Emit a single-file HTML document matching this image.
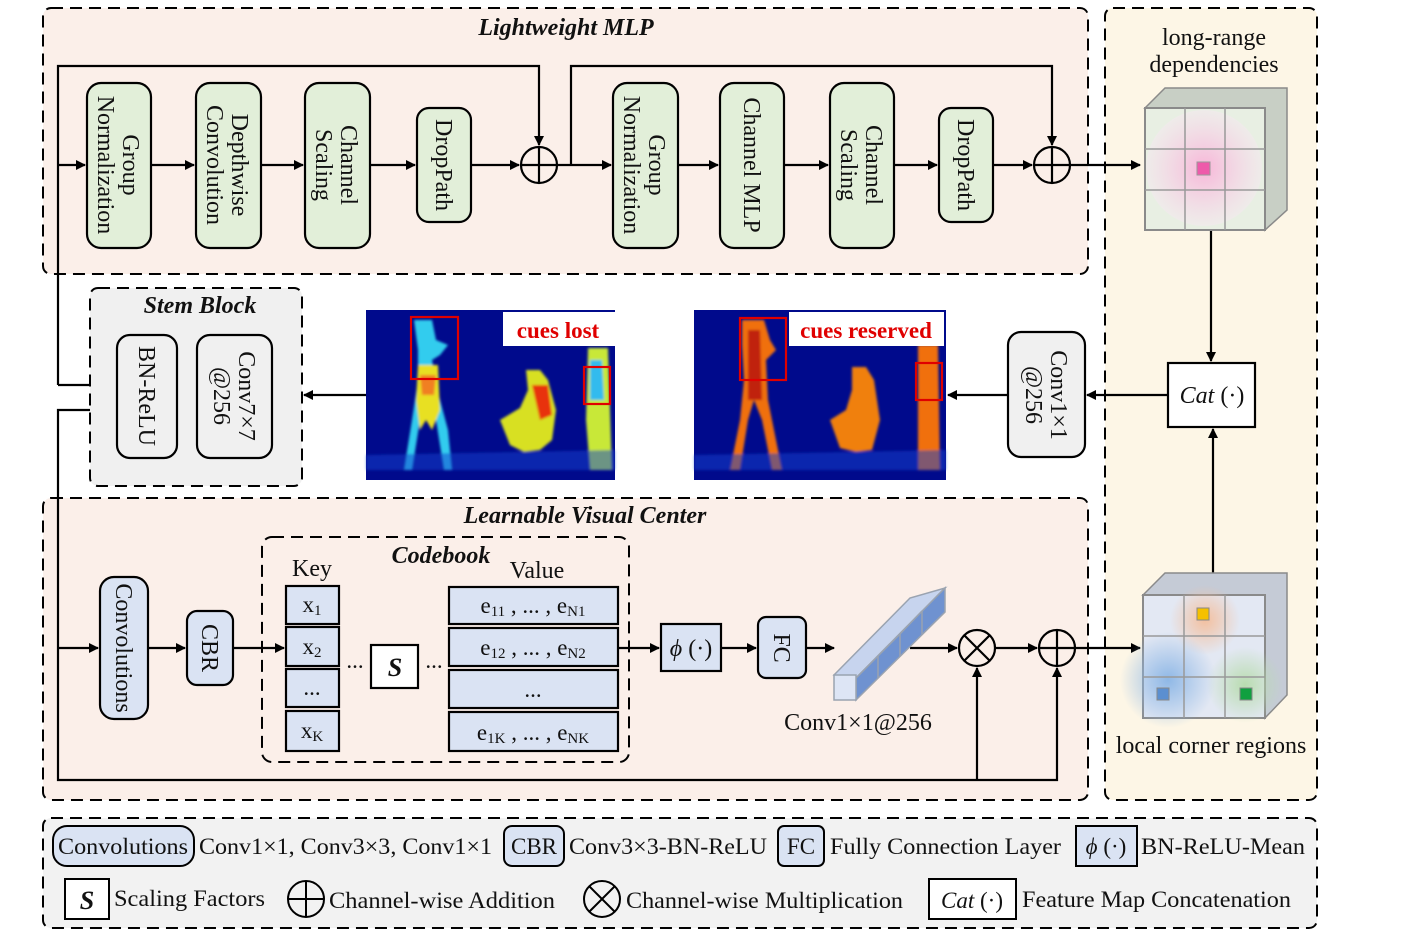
<!DOCTYPE html>
<html><head><meta charset="utf-8"><style>
html,body{margin:0;padding:0;background:#fff}
svg{display:block}
text{font-family:"Liberation Serif",serif;fill:#111}
.t{font-size:24px}
.it{font-style:italic;font-weight:bold}
</style></head><body>
<svg width="1423" height="951" viewBox="0 0 1423 951" xmlns="http://www.w3.org/2000/svg">
<defs>
<marker id="ar" markerWidth="10" markerHeight="10" refX="9" refY="5" orient="auto" markerUnits="userSpaceOnUse"><path d="M0,0 L10,5 L0,10 z" fill="#000"/></marker>
<radialGradient id="pink"><stop offset="0" stop-color="#f7b6d8"/><stop offset="1" stop-color="#f3e9ee" stop-opacity="0.6"/></radialGradient>
<radialGradient id="bl"><stop offset="0" stop-color="#8fb8e6"/><stop offset="1" stop-color="#8fb8e6" stop-opacity="0"/></radialGradient>
<radialGradient id="or"><stop offset="0" stop-color="#f3c0a0"/><stop offset="1" stop-color="#f3c0a0" stop-opacity="0"/></radialGradient>
<radialGradient id="gr"><stop offset="0" stop-color="#b9dcb0"/><stop offset="1" stop-color="#b9dcb0" stop-opacity="0"/></radialGradient>
<filter id="bf"><feGaussianBlur stdDeviation="1.2"/></filter>
</defs>

<rect x="43" y="8" width="1045" height="266" rx="8" fill="#fbefe9" stroke="#000" stroke-width="2" stroke-dasharray="12,7"/>
<rect x="1105" y="8" width="212" height="792" rx="8" fill="#fdf6e6" stroke="#000" stroke-width="2" stroke-dasharray="12,7"/>
<rect x="90" y="288" width="212" height="198" rx="8" fill="#f0f0f0" stroke="#000" stroke-width="2" stroke-dasharray="12,7"/>
<rect x="43" y="498" width="1045" height="302" rx="8" fill="#fbefe9" stroke="#000" stroke-width="2" stroke-dasharray="12,7"/>
<rect x="43" y="818" width="1274" height="110" rx="8" fill="#f2f2f2" stroke="#000" stroke-width="2" stroke-dasharray="12,7"/>

<text x="566" y="35" class="t it" text-anchor="middle">Lightweight MLP</text>
<text x="200" y="313" class="t it" text-anchor="middle">Stem Block</text>
<text x="585" y="523" class="t it" text-anchor="middle">Learnable Visual Center</text>

<g stroke="#000" stroke-width="2.2" fill="none">
<polyline points="58,385 58,66 539,66 539,145" marker-end="url(#ar)"/>
<polyline points="571,165 571,66 1052,66 1052,145" marker-end="url(#ar)"/>
<line x1="58" y1="165" x2="85" y2="165" marker-end="url(#ar)"/>
<line x1="151" y1="165" x2="194" y2="165" marker-end="url(#ar)"/>
<line x1="261" y1="165" x2="303" y2="165" marker-end="url(#ar)"/>
<line x1="370" y1="165" x2="415" y2="165" marker-end="url(#ar)"/>
<line x1="471" y1="165" x2="519" y2="165" marker-end="url(#ar)"/>
<line x1="557" y1="165" x2="611" y2="165" marker-end="url(#ar)"/>
<line x1="678" y1="165" x2="718" y2="165" marker-end="url(#ar)"/>
<line x1="784" y1="165" x2="828" y2="165" marker-end="url(#ar)"/>
<line x1="894" y1="165" x2="937" y2="165" marker-end="url(#ar)"/>
<line x1="993" y1="165" x2="1032" y2="165" marker-end="url(#ar)"/>
<line x1="1070" y1="165" x2="1140" y2="165" marker-end="url(#ar)"/>
<polyline points="58,385 90,385"/>
<polyline points="90,410 58,410 58,780 1057,780 1057,668" marker-end="url(#ar)"/>
<line x1="977" y1="780" x2="977" y2="668" marker-end="url(#ar)"/>
<line x1="58" y1="648" x2="98" y2="648" marker-end="url(#ar)"/>
<line x1="148" y1="648" x2="185" y2="648" marker-end="url(#ar)"/>
<line x1="233" y1="648" x2="284" y2="648" marker-end="url(#ar)"/>
<line x1="618" y1="648" x2="659" y2="648" marker-end="url(#ar)"/>
<line x1="721" y1="648" x2="756" y2="648" marker-end="url(#ar)"/>
<line x1="806" y1="648" x2="834" y2="648" marker-end="url(#ar)"/>
<line x1="910" y1="648" x2="957" y2="648" marker-end="url(#ar)"/>
<line x1="995" y1="648" x2="1037" y2="648" marker-end="url(#ar)"/>
<line x1="1075" y1="648" x2="1140" y2="648" marker-end="url(#ar)"/>
<line x1="1211" y1="230" x2="1211" y2="361" marker-end="url(#ar)"/>
<line x1="1213" y1="573" x2="1213" y2="429" marker-end="url(#ar)"/>
<line x1="1168" y1="395" x2="1087" y2="395" marker-end="url(#ar)"/>
<line x1="1008" y1="395" x2="948" y2="395" marker-end="url(#ar)"/>
<line x1="366" y1="395" x2="304" y2="395" marker-end="url(#ar)"/>
</g>

<g stroke="#000" stroke-width="2.2" fill="none">
<circle cx="539" cy="165" r="18"/><line x1="521" y1="165" x2="557" y2="165"/><line x1="539" y1="147" x2="539" y2="183"/>
<circle cx="1052" cy="165" r="18"/><line x1="1034" y1="165" x2="1070" y2="165"/><line x1="1052" y1="147" x2="1052" y2="183"/>
<circle cx="977" cy="648" r="18"/><line x1="964" y1="635" x2="990" y2="661"/><line x1="990" y1="635" x2="964" y2="661"/>
<circle cx="1057" cy="648" r="18"/><line x1="1039" y1="648" x2="1075" y2="648"/><line x1="1057" y1="630" x2="1057" y2="666"/>
</g>

<g fill="#e2efd9" stroke="#000" stroke-width="2.2">
<rect x="87" y="83" width="64" height="165" rx="14"/>
<rect x="196" y="83" width="65" height="165" rx="14"/>
<rect x="305" y="83" width="65" height="165" rx="14"/>
<rect x="417" y="108" width="54" height="114" rx="12"/>
<rect x="613" y="83" width="65" height="165" rx="14"/>
<rect x="720" y="83" width="64" height="165" rx="14"/>
<rect x="830" y="83" width="64" height="165" rx="14"/>
<rect x="939" y="108" width="54" height="114" rx="12"/>
</g>
<g font-size="24">
<g transform="translate(119,165) rotate(90)"><text text-anchor="middle" y="-4" font-size="24">Group</text><text text-anchor="middle" y="21" font-size="24">Normalization</text></g>
<g transform="translate(228,165) rotate(90)"><text text-anchor="middle" y="-4" font-size="24">Depthwise</text><text text-anchor="middle" y="21" font-size="24">Convolution</text></g>
<g transform="translate(337,165) rotate(90)"><text text-anchor="middle" y="-4" font-size="24">Channel</text><text text-anchor="middle" y="21" font-size="24">Scaling</text></g>
<g transform="translate(444,165) rotate(90)"><text text-anchor="middle" y="8" font-size="24">DropPath</text></g>
<g transform="translate(645,165) rotate(90)"><text text-anchor="middle" y="-4" font-size="24">Group</text><text text-anchor="middle" y="21" font-size="24">Normalization</text></g>
<g transform="translate(752,165) rotate(90)"><text text-anchor="middle" y="8" font-size="24">Channel MLP</text></g>
<g transform="translate(862,165) rotate(90)"><text text-anchor="middle" y="-4" font-size="24">Channel</text><text text-anchor="middle" y="21" font-size="24">Scaling</text></g>
<g transform="translate(966,165) rotate(90)"><text text-anchor="middle" y="8" font-size="24">DropPath</text></g>
</g>

<g fill="#f0f0f0" stroke="#000" stroke-width="2.2">
<rect x="117" y="335" width="60" height="123" rx="13"/>
<rect x="197" y="335" width="75" height="123" rx="13"/>
<rect x="1008" y="332" width="77" height="125" rx="13"/>
</g>
<g transform="translate(147,396) rotate(90)"><text text-anchor="middle" y="8" font-size="24">BN-ReLU</text></g>
<g transform="translate(235,396) rotate(90)"><text text-anchor="middle" y="-4" font-size="24">Conv7×7</text><text text-anchor="middle" y="21" font-size="24">@256</text></g>
<g transform="translate(1047,395) rotate(90)"><text text-anchor="middle" y="-4" font-size="24">Conv1×1</text><text text-anchor="middle" y="21" font-size="24">@256</text></g>

<g>
<rect x="366" y="310" width="249" height="170" fill="#000a8c"/>
<g filter="url(#bf)">
<path d="M414,320 L432,320 L436,340 L448,345 L440,355 L432,360 L436,380 L440,400 L448,430 L452,470 L444,470 L436,420 L428,400 L420,420 L412,470 L404,470 L412,420 L418,380 L418,350 Z" fill="#33ccee"/>
<path d="M418,365 L438,365 L440,410 L432,430 L426,420 L420,430 L416,400 Z" fill="#e8e020"/>
<path d="M420,375 L436,375 L434,395 L422,395 Z" fill="#f08020"/>
<path d="M526,370 L540,370 L548,380 L556,410 L552,440 L540,450 L524,452 L510,445 L500,420 L520,408 L528,390 Z" fill="#d8e020"/>
<path d="M532,385 L548,385 L552,415 L540,420 Z" fill="#e83010"/>
<path d="M588,348 L608,348 L612,470 L590,470 L586,420 Z" fill="#c8e838"/>
<path d="M590,360 L602,360 L604,400 L590,400 Z" fill="#33bbee"/>
<path d="M366,455 L615,450 L615,470 L366,470 Z" fill="#1040d0" opacity="0.5"/>
</g>
<rect x="411" y="317" width="47" height="62" fill="none" stroke="#e00000" stroke-width="2.2"/>
<rect x="584" y="367" width="26" height="37" fill="none" stroke="#e00000" stroke-width="2.2"/>
<rect x="503" y="312" width="112" height="34" fill="#fff"/>
<text x="558" y="338" text-anchor="middle" font-size="23" font-weight="bold" style="fill:#e00000">cues lost</text>

<rect x="694" y="310" width="252" height="170" fill="#000a8c"/>
<g filter="url(#bf)">
<path d="M742,320 L764,320 L770,340 L776,350 L766,360 L768,400 L776,440 L782,470 L772,470 L762,420 L754,400 L748,420 L740,470 L730,470 L740,420 L744,380 L742,345 Z" fill="#f07010"/>
<path d="M748,330 L760,330 L762,400 L748,400 Z" fill="#c02010"/>
<path d="M852,367 L866,367 L874,380 L880,420 L872,450 L856,452 L840,448 L830,420 L846,410 L852,390 Z" fill="#f08010"/>
<path d="M918,345 L938,345 L940,470 L918,470 Z" fill="#f07010"/>
<path d="M694,455 L946,450 L946,470 L694,470 Z" fill="#1040d0" opacity="0.5"/>
</g>
<rect x="740" y="318" width="46" height="62" fill="none" stroke="#e00000" stroke-width="2.2"/>
<rect x="916" y="363" width="26" height="37" fill="none" stroke="#e00000" stroke-width="2.2"/>
<rect x="789" y="312" width="155" height="34" fill="#fff"/>
<text x="866" y="338" text-anchor="middle" font-size="23" font-weight="bold" style="fill:#e00000">cues reserved</text>
</g>

<rect x="1168" y="363" width="87" height="64" fill="#fff" stroke="#000" stroke-width="2.2"/>
<text x="1212" y="403" text-anchor="middle" font-size="24"><tspan font-style="italic">Cat</tspan> (·)</text>

<text x="1214" y="45" text-anchor="middle" font-size="24">long-range</text>
<text x="1214" y="72" text-anchor="middle" font-size="24">dependencies</text>
<g>
<polygon points="1145,108 1165,88 1287,88 1287,210 1265,230 1265,108" fill="#c8cfc5" stroke="#8a8a8a" stroke-width="1.5"/>
<rect x="1145" y="108" width="120" height="122" fill="#e8efe3" stroke="#8a8a8a" stroke-width="2"/>
<circle cx="1204" cy="168" r="58" fill="url(#pink)"/>
<g stroke="#999" stroke-width="1.5"><line x1="1185" y1="108" x2="1185" y2="230"/><line x1="1225" y1="108" x2="1225" y2="230"/><line x1="1145" y1="149" x2="1265" y2="149"/><line x1="1145" y1="190" x2="1265" y2="190"/></g>
<rect x="1197" y="162" width="13" height="13" fill="#ee5aaa" stroke="#999"/>
</g>

<g>
<polygon points="1143,595 1165,573 1287,573 1287,695 1265,718 1265,595" fill="#c5cbd6" stroke="#8a8a8a" stroke-width="1.5"/>
<rect x="1143" y="595" width="122" height="123" fill="#e3e8f3" stroke="#8a8a8a" stroke-width="2"/>
<circle cx="1205" cy="620" r="35" fill="url(#or)"/>
<circle cx="1168" cy="680" r="48" fill="url(#bl)"/>
<circle cx="1245" cy="685" r="38" fill="url(#gr)"/>
<g stroke="#999" stroke-width="1.5"><line x1="1184" y1="595" x2="1184" y2="718"/><line x1="1225" y1="595" x2="1225" y2="718"/><line x1="1143" y1="636" x2="1265" y2="636"/><line x1="1143" y1="677" x2="1265" y2="677"/></g>
<rect x="1197" y="608" width="12" height="12" fill="#f5c000" stroke="#888"/>
<rect x="1157" y="688" width="12" height="12" fill="#5b8fd0" stroke="#888"/>
<rect x="1240" y="688" width="12" height="12" fill="#10a040" stroke="#888"/>
</g>
<text x="1211" y="753" text-anchor="middle" font-size="24">local corner regions</text>

<g fill="#dae3f3" stroke="#000" stroke-width="2.2">
<rect x="100" y="577" width="48" height="142" rx="14"/>
<rect x="187" y="611" width="46" height="74" rx="10"/>
<rect x="661" y="624" width="60" height="47"/>
<rect x="758" y="617" width="48" height="61" rx="8"/>
</g>
<g transform="translate(124,648) rotate(90)"><text text-anchor="middle" y="8" font-size="24">Convolutions</text></g>
<g transform="translate(210,648) rotate(90)"><text text-anchor="middle" y="8" font-size="24">CBR</text></g>
<g transform="translate(782,648) rotate(90)"><text text-anchor="middle" y="8" font-size="24">FC</text></g>
<text x="691" y="656" text-anchor="middle" font-size="24"><tspan font-style="italic">ϕ</tspan> (·)</text>

<rect x="262" y="537" width="367" height="225" rx="10" fill="none" stroke="#000" stroke-width="2" stroke-dasharray="12,7"/>
<text x="441" y="563" text-anchor="middle" class="t it">Codebook</text>
<text x="312" y="576" text-anchor="middle" font-size="24">Key</text>
<text x="537" y="578" text-anchor="middle" font-size="24">Value</text>
<g fill="#dae3f3" stroke="#000" stroke-width="2.2">
<rect x="286" y="586" width="53" height="38"/><rect x="286" y="627" width="53" height="39"/><rect x="286" y="669" width="53" height="38"/><rect x="286" y="711" width="53" height="40"/>
<rect x="449" y="587" width="169" height="37"/><rect x="449" y="628" width="169" height="38"/><rect x="449" y="670" width="169" height="38"/><rect x="449" y="712" width="169" height="39"/>
</g>
<g font-size="23" text-anchor="middle">
<text x="312" y="612">x<tspan font-size="15" dy="3">1</tspan></text>
<text x="312" y="654">x<tspan font-size="15" dy="3">2</tspan></text>
<text x="312" y="695">...</text>
<text x="312" y="738">x<tspan font-size="15" dy="3">K</tspan></text>
<text x="533" y="613">e<tspan font-size="15" dy="3">11</tspan><tspan dy="-3"> , ... , e</tspan><tspan font-size="15" dy="3">N1</tspan></text>
<text x="533" y="655">e<tspan font-size="15" dy="3">12</tspan><tspan dy="-3"> , ... , e</tspan><tspan font-size="15" dy="3">N2</tspan></text>
<text x="533" y="697">...</text>
<text x="533" y="740">e<tspan font-size="15" dy="3">1K</tspan><tspan dy="-3"> , ... , e</tspan><tspan font-size="15" dy="3">NK</tspan></text>
<text x="355" y="668">...</text>
<text x="434" y="668">...</text>
</g>
<rect x="371" y="645" width="47" height="43" fill="#fff" stroke="#000" stroke-width="2.2"/>
<text x="395" y="676" text-anchor="middle" font-size="26" font-weight="bold" font-style="italic">S</text>

<g stroke="#9aa3b0" stroke-width="1.5">
<polygon points="834,675 910,598 945,588 856,678" fill="#c7d4ee"/>
<polygon points="856,678 945,588 945,612 856,700" fill="#6f92d0"/>
<rect x="834" y="675" width="22" height="25" fill="#dde5f5"/>
<line x1="856" y1="678" x2="878" y2="656"/><line x1="878" y1="656" x2="878" y2="678"/>
<line x1="878" y1="656" x2="900" y2="634"/><line x1="900" y1="634" x2="900" y2="656"/>
<line x1="900" y1="634" x2="922" y2="611"/><line x1="922" y1="611" x2="922" y2="634"/>
</g>
<text x="858" y="730" text-anchor="middle" font-size="24">Conv1×1@256</text>

<g stroke="#000" stroke-width="2">
<rect x="53" y="826" width="141" height="40" rx="14" fill="#dae3f3"/>
<rect x="504" y="826" width="60" height="40" rx="8" fill="#dae3f3"/>
<rect x="778" y="826" width="46" height="40" rx="6" fill="#dae3f3"/>
<rect x="1076" y="826" width="61" height="40" fill="#dae3f3"/>
<rect x="65" y="879" width="44" height="40" fill="#fff"/>
<rect x="929" y="879" width="87" height="40" fill="#fff"/>
<circle cx="306" cy="899" r="18" fill="none"/><line x1="288" y1="899" x2="324" y2="899"/><line x1="306" y1="881" x2="306" y2="917"/>
<circle cx="602" cy="899" r="18" fill="none"/><line x1="589" y1="886" x2="615" y2="912"/><line x1="615" y1="886" x2="589" y2="912"/>
</g>
<g font-size="23">
<text x="123" y="854" text-anchor="middle" textLength="130" lengthAdjust="spacingAndGlyphs">Convolutions</text>
<text x="199" y="854" textLength="293" lengthAdjust="spacingAndGlyphs">Conv1×1, Conv3×3, Conv1×1</text>
<text x="534" y="854" text-anchor="middle">CBR</text>
<text x="569" y="854" textLength="198" lengthAdjust="spacingAndGlyphs">Conv3×3-BN-ReLU</text>
<text x="801" y="854" text-anchor="middle">FC</text>
<text x="830" y="854" textLength="231" lengthAdjust="spacingAndGlyphs">Fully Connection Layer</text>
<text x="1106" y="854" text-anchor="middle"><tspan font-style="italic">ϕ</tspan> (·)</text>
<text x="1141" y="854" textLength="164" lengthAdjust="spacingAndGlyphs">BN-ReLU-Mean</text>
<text x="87" y="909" text-anchor="middle" font-weight="bold" font-style="italic" font-size="26">S</text>
<text x="114" y="906" textLength="151" lengthAdjust="spacingAndGlyphs">Scaling Factors</text>
<text x="329" y="908" textLength="226" lengthAdjust="spacingAndGlyphs">Channel-wise Addition</text>
<text x="626" y="908" textLength="277" lengthAdjust="spacingAndGlyphs">Channel-wise Multiplication</text>
<text x="972" y="908" text-anchor="middle"><tspan font-style="italic">Cat</tspan> (·)</text>
<text x="1022" y="907" textLength="269" lengthAdjust="spacingAndGlyphs">Feature Map Concatenation</text>
</g>
</svg>
</body></html>
